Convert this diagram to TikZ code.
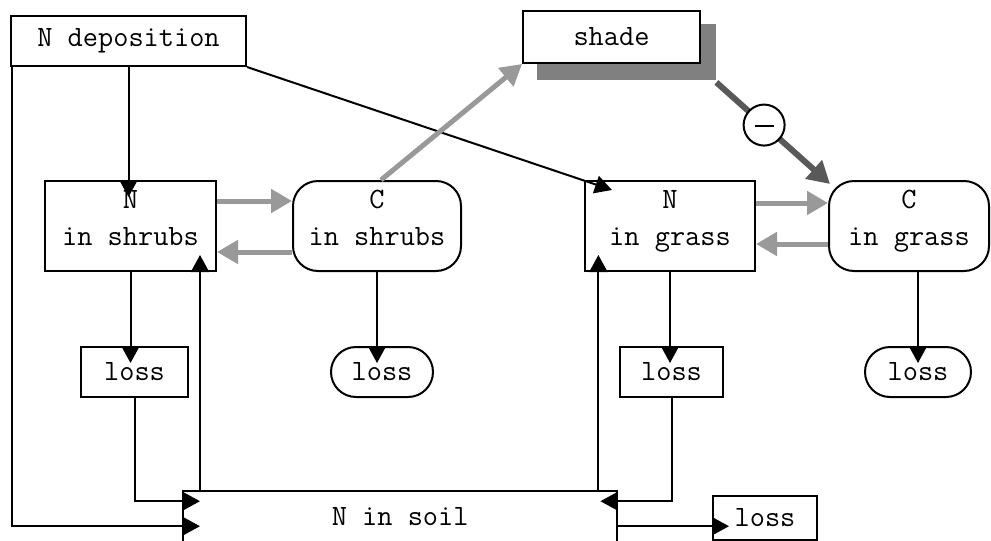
\documentclass[tikz,border=0pt]{standalone}
\usepackage{fontspec}
\usetikzlibrary{arrows.meta,calc}
\newcommand\twol[2]{\raisebox{0pt}[\height][\dimexpr\depth+12pt\relax]{\begin{tabular}[b]{@{}c@{}}#1\\#2\end{tabular}}}
\begin{document}
\begin{tikzpicture}[x=1pt,y=-1pt, font=\ttfamily\fontsize{29.5}{37}\selectfont,
 box/.style={draw, line width=2pt, inner sep=0pt, anchor=north west, align=center},
 rbox/.style={box, rounded corners=25pt},
 arr0/.style={line width=2pt, -{Triangle[length=17pt,width=18pt]}},
 arr/.style={arr0, shorten >=-17pt},
 harr/.style={line width=5pt, draw=black!40, -{Triangle[length=21pt,width=23pt,fill=black!40]}},
 darr/.style={line width=6pt, draw=black!65, -{Triangle[length=22pt,width=24pt,fill=black!65]}},
]
\useasboundingbox (0,0) rectangle (991,541);
% nodes
\node[box, minimum width=235pt, minimum height=50pt] (ndep) at (10,15) {N deposition};
\node[fill=gray, inner sep=0pt, anchor=north west, minimum width=179pt, minimum height=56pt] (shadow) at (537,24) {};
\node[box, fill=white, minimum width=177pt, minimum height=52pt] (shade) at (522,10) {shade};
\node[box, minimum width=171pt, minimum height=90pt] (nsh) at (44,180) {\twol{N}{in shrubs}};
\node[rbox, minimum width=168pt, minimum height=90pt] (csh) at (292,180) {\twol{C}{in shrubs}};
\node[box, minimum width=170pt, minimum height=90pt] (ngr) at (584,180) {\twol{N}{in grass}};
\node[rbox, minimum width=160pt, minimum height=90pt] (cgr) at (828,180) {\twol{C}{in grass}};
\node[box, minimum width=107pt, minimum height=50pt] (l1) at (80,346) {loss};
\node[rbox, minimum width=102pt, minimum height=50pt] (l2) at (330,346) {loss};
\node[box, minimum width=103pt, minimum height=50pt] (l3) at (619,346) {loss};
\node[rbox, minimum width=106pt, minimum height=50pt] (l4) at (864,346) {loss};
\node[box, minimum width=104pt, minimum height=44pt] (l5) at (712,495) {loss};
\node[inner sep=0pt, anchor=north west, minimum width=434pt, minimum height=50pt] (soil) at (183,491) {N in soil};
\draw[line width=2pt] (soil.south west) -- (soil.north west) -- (soil.north east) -- (soil.south east);
% black arrows
\draw[arr] (ndep.south) -- (ndep.south |- nsh.north);
\draw[arr] ([xshift=2pt]ndep.south west) |- ($(soil.west)+(0,10)$);
\draw[arr0] (ndep.south east) -- ($(ngr.north west)+(28,10)$);
\draw[arr] (nsh.south) -- (nsh.south |- l1.north);
\draw[arr] (l1.south) |- ($(soil.west)+(0,-15)$);
\draw[arr] ($(soil.north west)+(17,0)$) coordinate (a1) -- (a1 |- nsh.south);
\draw[arr] (csh.south) -- (csh.south |- l2.north);
\draw[arr] (ngr.south) -- (ngr.south |- l3.north);
\draw[arr] ($(soil.north east)+(-19,0)$) coordinate (a2) -- (a2 |- ngr.south);
\draw[arr] (l3.south) |- ($(soil.east)+(0,-15)$);
\draw[arr] ($(soil.east)+(0,10)$) coordinate (a3) -- (a3 -| l5.west);
\draw[arr] (l4.north |- cgr.south) -- (l4.north);
% hatched arrows
\draw[harr] ($(nsh.east)+(0,-25)$) -- ($(csh.west)+(0,-25)$);
\draw[harr] ($(csh.west)+(0,26)$) -- ($(nsh.east)+(0,26)$);
\draw[harr] ($(ngr.east)+(0,-23)$) -- ($(cgr.west)+(0,-23)$);
\draw[harr] ($(cgr.west)+(0,18)$) -- ($(ngr.east)+(0,18)$);
\draw[harr] ($(csh.north)+(4,0)$) -- (shade.south west);
% shade inhibition
\draw[darr] ([shift={(0pt,-2pt)}]shadow.south east) -- ($(cgr.north west)+(2,4)$)
  node[pos=0.42, circle, draw=black, line width=2pt, fill=white, minimum size=41pt, inner sep=0pt] (minus) {\raisebox{-4pt}{\rule{19pt}{1.6pt}}};
\end{tikzpicture}
\end{document}
